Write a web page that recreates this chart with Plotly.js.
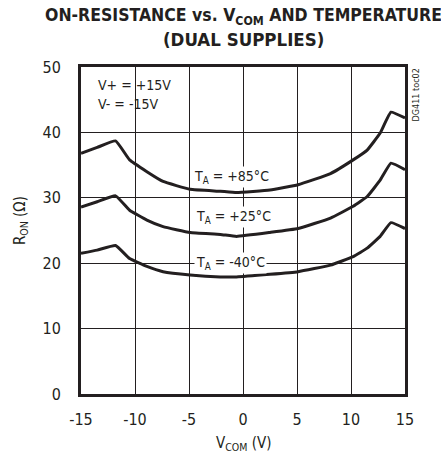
<!DOCTYPE html>
<html>
<head>
<meta charset="utf-8">
<script src="https://cdn.plot.ly/plotly-3.0.1.min.js"></script>
<style>html,body{margin:0;padding:0;background:#fff;}#chart{width:441px;height:457px;}</style>
</head>
<body>
<div id="chart"></div>
<script>
const vcom = [-15, -13.5, -11.8, -10.5, -8.9, -7.4, -4.9, -2.1, -0.6, 2.5, 5.1, 8.1, 10.2, 11.5, 12.7, 13.7, 15];
const r85 = [36.8, 37.7, 38.7, 35.8, 34.0, 32.5, 31.3, 31.0, 30.8, 31.2, 32.0, 33.7, 35.8, 37.3, 39.9, 43.1, 42.2];
const r25 = [28.6, 29.4, 30.3, 28.1, 26.6, 25.6, 24.7, 24.4, 24.1, 24.7, 25.3, 26.9, 28.7, 30.2, 32.7, 35.3, 34.3];
const rm40 = [21.5, 22.0, 22.7, 20.7, 19.5, 18.7, 18.2, 17.9, 17.9, 18.3, 18.7, 19.7, 21.0, 22.3, 24.1, 26.2, 25.3];
const xTicks = [-15, -10, -5, 0, 5, 10, 15];
const yTicks = [0, 10, 20, 30, 40, 50];

const FONT = '"Liberation Sans Narrow", "DejaVu Sans Condensed", "Liberation Sans", sans-serif';
const INK = '#231f20';

const mk = (y) => ({x: vcom, y: y, type: 'scatter', mode: 'lines',
  line: {color: INK, width: 3, shape: 'spline', smoothing: 0.35}, hoverinfo: 'skip', showlegend: false});

const data = [mk(r85), mk(r25), mk(rm40)];

const ann = (o) => Object.assign({showarrow: false, xanchor: 'center', yanchor: 'middle'}, o);

const layout = {
  width: 441, height: 457,
  margin: {l: 81, r: 36, t: 67, b: 63},
  paper_bgcolor: '#fff', plot_bgcolor: '#fff',
  font: {family: FONT, color: INK, size: 14},
  xaxis: {range: [-15, 15], tickvals: xTicks, ticktext: xTicks.map(String), showgrid: true,
    gridcolor: INK, gridwidth: 1, zeroline: false, showline: true, mirror: true,
    linecolor: INK, linewidth: 3, ticks: '', ticklen: 0, tickfont: {size: 16}, ticklabelstandoff: 9},
  yaxis: {range: [0, 50], tickvals: yTicks, ticktext: yTicks.map(String), showgrid: true,
    gridcolor: INK, gridwidth: 1, zeroline: false, showline: true, mirror: true,
    linecolor: INK, linewidth: 3, ticks: '', ticklen: 0, tickfont: {size: 16}, ticklabelstandoff: 14},
  annotations: [
    ann({x: 0.503, xref: 'paper', y: 1.153, yref: 'paper', text: '<b>ON-RESISTANCE vs. V<sub>COM</sub> AND TEMPERATURE</b>',
      font: {size: 17.5}}),
    ann({x: 0.503, xref: 'paper', y: 1.083, yref: 'paper', text: '<b>(DUAL SUPPLIES)</b>',
      font: {size: 18.5}}),
    ann({x: -0.188, xref: 'paper', y: 0.529, yref: 'paper', text: 'R<sub>ON</sub> (Ω)', textangle: -90,
      font: {size: 15}}),
    ann({x: 0.5, xref: 'paper', y: -0.15, yref: 'paper', text: 'V<sub>COM</sub> (V)',
      font: {size: 15}}),
    ann({x: -13.6, y: 47.3, xanchor: 'left', text: 'V+ = +15V'}),
    ann({x: -13.6, y: 44.4, xanchor: 'left', text: 'V- = -15V'}),
    ann({x: -1.1, y: 33.2, text: 'T<sub>A</sub> = +85°C', bgcolor: '#fff'}),
    ann({x: -0.9, y: 27.0, text: 'T<sub>A</sub> = +25°C', bgcolor: '#fff'}),
    ann({x: -1.2, y: 20.1, text: 'T<sub>A</sub> = -40°C', bgcolor: '#fff'}),
    ann({x: 1.0, xref: 'paper', xanchor: 'left', xshift: 3, y: 50, yanchor: 'top', text: 'DG411 toc02',
      textangle: -90, font: {size: 9}})
  ]
};

Plotly.newPlot('chart', data, layout, {staticPlot: true, displayModeBar: false});
</script>
</body>
</html>
